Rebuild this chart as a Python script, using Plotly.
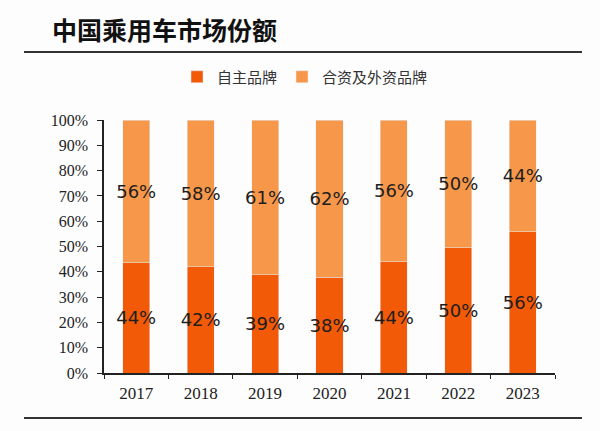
import plotly.graph_objects as go

years = ["2017", "2018", "2019", "2020", "2021", "2022", "2023"]
domestic = [43.6, 41.9, 38.8, 37.9, 43.9, 49.6, 55.8]
domestic_labels = ["44%", "42%", "39%", "38%", "44%", "50%", "56%"]
joint = [56.4, 58.1, 61.2, 62.1, 56.1, 50.4, 44.2]
joint_labels = ["56%", "58%", "61%", "62%", "56%", "50%", "44%"]
names = ["自主品牌", "合资及外资品牌"]
colors = ["#F25A08", "#F7974A"]

label_font = dict(family="DejaVu Sans", size=18, color="#1E1E1E")

fig = go.Figure()
fig.add_trace(go.Bar(x=years, y=domestic, name=names[0], marker_color=colors[0],
                     text=domestic_labels, textposition="inside", insidetextanchor="middle",
                     textangle=0, constraintext="none", textfont=label_font,
                     hoverinfo="skip"))
fig.add_trace(go.Bar(x=years, y=joint, name=names[1], marker_color=colors[1],
                     text=joint_labels, textposition="inside", insidetextanchor="middle",
                     textangle=0, constraintext="none", textfont=label_font,
                     hoverinfo="skip"))

L, R, T, B = 104, 45, 120, 58
pw = 600 - L - R
ph = 431 - T - B

def px_x(x):
    return (x - L) / pw

def px_y(y):
    return (431 - B - y) / ph

line_style = dict(color="#333333", width=1.8)
fig.add_shape(type="line", xref="paper", yref="paper", x0=px_x(24), x1=px_x(582),
              y0=px_y(52), y1=px_y(52), line=line_style)
fig.add_shape(type="line", xref="paper", yref="paper", x0=px_x(24), x1=px_x(582),
              y0=px_y(418), y1=px_y(418), line=line_style)

fig.update_layout(
    width=600, height=431,
    margin=dict(l=L, r=R, t=T, b=B),
    barmode="stack", bargap=0.58,
    paper_bgcolor="#FDFDFE", plot_bgcolor="#FDFDFE",
    title=dict(text="<b>中国乘用车市场份额</b>", x=52/600, xanchor="left",
               y=1 - 31/431, yanchor="middle",
               font=dict(family="Noto Sans CJK SC", size=25, color="#111111")),
    legend=dict(orientation="h", x=px_x(177), xanchor="left", y=px_y(77), yanchor="middle",
                font=dict(family="Noto Sans CJK SC", size=15, color="#333333"),
                itemwidth=30, traceorder="normal", bgcolor="rgba(0,0,0,0)"),
    showlegend=True,
    xaxis=dict(type="category", showline=True, linecolor="#222222", linewidth=1.5,
               ticks="outside", tickson="boundaries", ticklen=4, tickcolor="#222222",
               ticklabelstandoff=4,
               tickfont=dict(family="Liberation Serif", size=17, color="#222222"),
               showgrid=False, zeroline=False),
    yaxis=dict(range=[0, 100], dtick=10, ticksuffix="%", showline=True,
               linecolor="#222222", linewidth=1.5, ticks="outside", ticklen=5,
               tickcolor="#222222", ticklabelstandoff=6,
               tickfont=dict(family="Liberation Serif", size=16, color="#222222"),
               showgrid=False, zeroline=False),
)

fig.write_html("out.html", config={"displayModeBar": False},
               post_script="document.body.style.margin='0';document.body.style.background='#FDFDFE';")
